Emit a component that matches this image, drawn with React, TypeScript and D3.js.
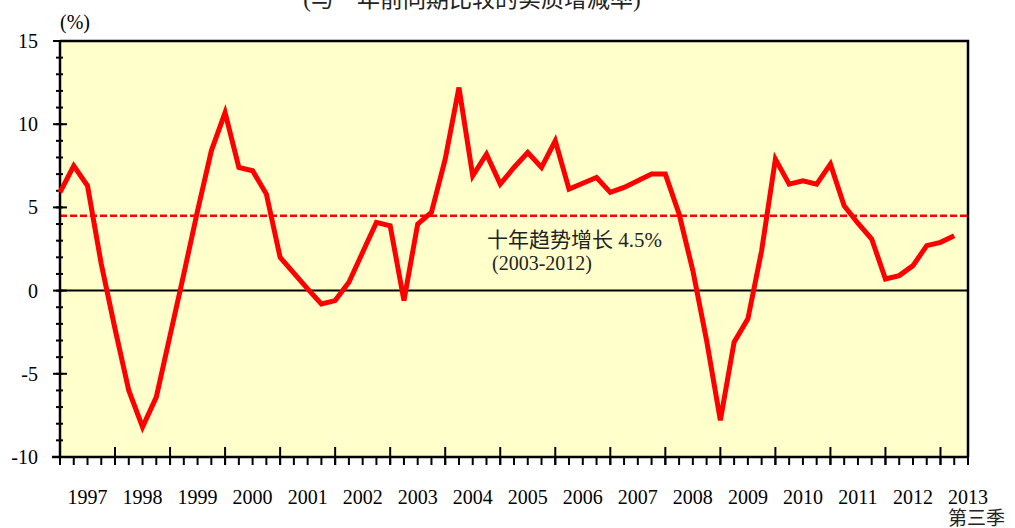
import React, { useEffect, useRef } from 'react';
import * as d3 from 'd3';

// quarterly real growth, 1997 Q1 .. 2013 Q2 (%)
const growth = [
  5.9, 7.5, 6.3, 1.6,
  -2.3, -6.0, -8.2, -6.4,
  -2.7, 1.0, 4.8, 8.4,
  10.7, 7.4, 7.2, 5.8,
  2.0, 1.05, 0.1, -0.8,
  -0.6, 0.5, 2.3, 4.1,
  3.9, -0.6, 4.0, 4.7,
  7.9, 12.2, 6.9, 8.2,
  6.4, 7.4, 8.3, 7.4,
  9.0, 6.1, 6.45, 6.8,
  5.9, 6.2, 6.6, 7.0,
  7.0, 4.6, 1.2, -3.0,
  -7.8, -3.1, -1.7, 2.4,
  7.9, 6.4, 6.6, 6.4,
  7.6, 5.1, 4.05, 3.1,
  0.7, 0.9, 1.5, 2.7,
  2.9, 3.3,
];
const years = [1997, 1998, 1999, 2000, 2001, 2002, 2003, 2004, 2005, 2006, 2007, 2008, 2009, 2010, 2011, 2012, 2013];
const yTicks = [15, 10, 5, 0, -5, -10];
const trend = 4.5;
const trendLabel = ['十年趋势增长 4.5%', '(2003-2012)'];
const title = '(与一年前同期比较的实质增减率)';

const FONT = '"Liberation Serif", "Times New Roman", "Noto Sans CJK SC", serif';

const App = () => {
  const ref = useRef<SVGSVGElement>(null);

  useEffect(() => {
    const svg = d3.select(ref.current);
    svg.selectAll('*').remove();

    const left = 60;
    const right = 968;
    const top = 41;
    const bottom = 457;
    const nQuarters = 66;

    const x = d3.scaleLinear().domain([0, nQuarters]).range([left, right]);
    const y = d3.scaleLinear().domain([-10, 15]).range([bottom, top]);

    // title, cut by the top edge as in the source
    svg.append('text')
        .attr('x', 472)
        .attr('y', 7)
        .attr('text-anchor', 'middle')
        .style('font-family', FONT)
        .style('font-size', '23px')
        .style('fill', '#222')
        .text(title);

    // plot background
    svg.append('rect')
        .attr('x', left)
        .attr('y', top)
        .attr('width', right - left)
        .attr('height', bottom - top)
        .style('fill', '#FFFFCC');

    // frame: top + right
    svg.append('path')
        .attr('d', `M${left},${top}H${right}V${bottom}`)
        .style('fill', 'none')
        .style('stroke', '#000')
        .style('stroke-width', 2.5);

    // zero line
    svg.append('line')
        .attr('x1', left).attr('x2', right)
        .attr('y1', y(0)).attr('y2', y(0))
        .style('stroke', '#000')
        .style('stroke-width', 2);

    // trend line
    svg.append('line')
        .attr('x1', left).attr('x2', right)
        .attr('y1', y(trend)).attr('y2', y(trend))
        .style('stroke', '#FF0000')
        .style('stroke-width', 2.5)
        .style('stroke-dasharray', '7,3');

    // trend label
    svg.append('text')
        .attr('x', 487)
        .attr('y', 247)
        .style('font-family', FONT)
        .style('font-size', '21px')
        .style('fill', '#222')
        .text(trendLabel[0]);
    svg.append('text')
        .attr('x', 492)
        .attr('y', 270)
        .style('font-family', FONT)
        .style('font-size', '20px')
        .style('fill', '#222')
        .text(trendLabel[1]);

    // y axis
    const yAxis = svg.append('g');
    yAxis.append('line')
        .attr('x1', left).attr('x2', left)
        .attr('y1', top - 1).attr('y2', bottom)
        .style('stroke', '#000')
        .style('stroke-width', 2.5);
    yAxis.selectAll('.minorY')
        .data(d3.range(-10, 16))
        .enter()
        .append('line')
        .attr('x1', left - 4).attr('x2', left + 3)
        .attr('y1', (d) => y(d)).attr('y2', (d) => y(d))
        .style('stroke', '#000')
        .style('stroke-width', 2);
    yAxis.selectAll('.majorY')
        .data(yTicks)
        .enter()
        .append('line')
        .attr('x1', left - 7).attr('x2', left + 7)
        .attr('y1', (d) => y(d)).attr('y2', (d) => y(d))
        .style('stroke', '#000')
        .style('stroke-width', 2);
    yAxis.selectAll('.yLabel')
        .data(yTicks)
        .enter()
        .append('text')
        .attr('x', 38)
        .attr('y', (d) => y(d) + 7)
        .attr('text-anchor', 'end')
        .style('font-family', FONT)
        .style('font-size', '20px')
        .style('fill', '#000')
        .text((d) => d);
    svg.append('text')
        .attr('x', 60)
        .attr('y', 29)
        .style('font-family', FONT)
        .style('font-size', '20px')
        .text('(%)');

    // x axis
    const xAxis = svg.append('g');
    xAxis.append('line')
        .attr('x1', left - 8).attr('x2', right)
        .attr('y1', bottom).attr('y2', bottom)
        .style('stroke', '#000')
        .style('stroke-width', 2.5);
    xAxis.selectAll('.minorX')
        .data(d3.range(0, nQuarters + 1))
        .enter()
        .append('line')
        .attr('x1', (d) => x(d)).attr('x2', (d) => x(d))
        .attr('y1', bottom).attr('y2', bottom + 8)
        .style('stroke', '#000')
        .style('stroke-width', 2);
    xAxis.selectAll('.majorX')
        .data(years.map((yr, i) => i * 4))
        .enter()
        .append('line')
        .attr('x1', (d) => x(d)).attr('x2', (d) => x(d))
        .attr('y1', bottom - 10).attr('y2', bottom + 8)
        .style('stroke', '#000')
        .style('stroke-width', 2);
    xAxis.selectAll('.xLabel')
        .data(years)
        .enter()
        .append('text')
        .attr('x', (d, i) => x(i * 4 + 2))
        .attr('y', 504)
        .attr('text-anchor', 'middle')
        .style('font-family', FONT)
        .style('font-size', '20px')
        .style('fill', '#000')
        .text((d) => d);
    svg.append('text')
        .attr('x', 948)
        .attr('y', 525)
        .style('font-family', FONT)
        .style('font-size', '19px')
        .style('fill', '#222')
        .text('第三季');

    // growth line
    const line = d3.line<number>()
        .x((d, i) => x(i))
        .y((d) => y(d));
    svg.append('path')
        .datum(growth)
        .attr('d', line)
        .style('fill', 'none')
        .style('stroke', '#FF0000')
        .style('stroke-width', 5)
        .style('stroke-linejoin', 'miter')
        .style('stroke-miterlimit', 4);
  }, []);

  return (
    <div style={{ position: 'absolute', left: 0, top: 0 }}>
      <svg ref={ref} width={1015} height={528} style={{ display: 'block' }} />
    </div>
  );
};

export default App;
